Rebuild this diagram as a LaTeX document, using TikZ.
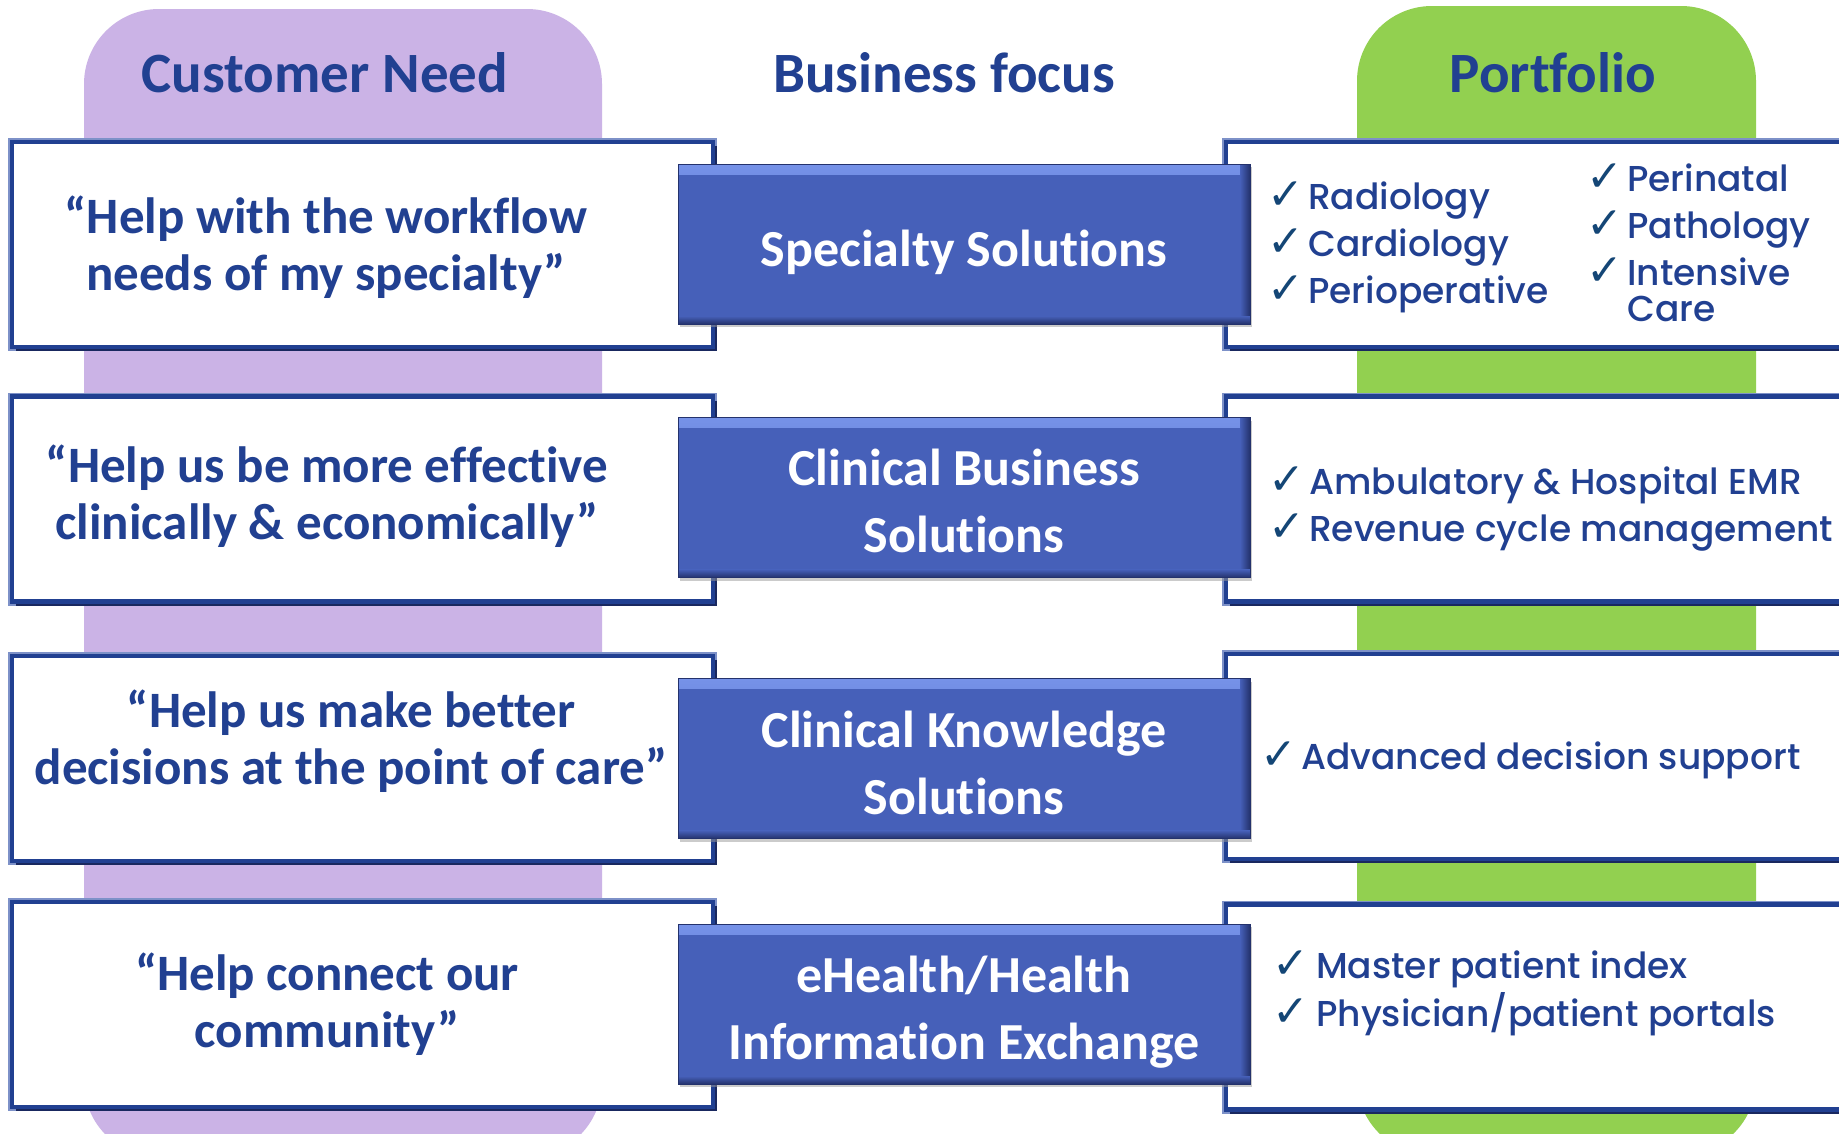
\documentclass[tikz,border=0pt]{standalone}
\usepackage{fontspec}
\setmainfont{Carlito}[Ligatures=NoCommon]
\newfontfamily\listfont{Poppins Medium}
\newfontfamily\checkfont{DejaVu Sans}
\usetikzlibrary{positioning}

\definecolor{needpurple}{RGB}{203,179,230}
\definecolor{portgreen}{RGB}{146,208,80}
\definecolor{gedark}{RGB}{33,64,145}
\definecolor{edgelight}{RGB}{125,145,200}
\definecolor{edgeshade}{RGB}{25,40,95}
\definecolor{focusblue}{RGB}{70,96,185}
\definecolor{focuslight}{RGB}{118,146,232}
\definecolor{focusdeep}{RGB}{36,50,108}
\definecolor{tickblue}{RGB}{20,70,118}

\newcommand{\tickmk}{\makebox[36pt][l]{\hspace{-5pt}\checkfont\fontsize{44}{44}\selectfont\color{tickblue}✓}}

\tikzset{
  colfill/.style={fill=#1, rounded corners=75pt},
  head/.style={anchor=base, inner sep=0pt, text=gedark, font=\fontsize{57}{60}\selectfont\bfseries},
  needframe/.style={fill=white, draw=gedark, line width=4.5pt, inner sep=0pt,
    preaction={draw=edgelight, line width=8pt},
    preaction={fill=edgeshade, transform canvas={xshift=4pt,yshift=-4pt}}},
  focusbox/.style={fill=focusblue, draw=focusdeep, line width=1pt, inner sep=0pt,
    preaction={fill=black!40, opacity=0.5, transform canvas={xshift=2pt,yshift=-3pt}},
    path picture={
      \fill[top color=focuslight, bottom color=focusblue]
        (path picture bounding box.north west) rectangle ([yshift=-10pt]path picture bounding box.north east);
      \fill[left color=focusblue, right color=focusdeep]
        ([xshift=-10pt]path picture bounding box.north east) rectangle (path picture bounding box.south east);
      \fill[top color=focusblue, bottom color=focusdeep]
        ([yshift=8pt]path picture bounding box.south west) rectangle (path picture bounding box.south east);
    }},
  quote/.style={anchor=base, inner sep=0pt, text=gedark, font=\fontsize{51}{57}\selectfont\bfseries},
  focustext/.style={anchor=base, inner sep=0pt, text=white, font=\fontsize{52}{67}\selectfont\bfseries},
  listtext/.style={anchor=base west, inner sep=0pt, text=gedark, font=\listfont\fontsize{36}{47}\selectfont}
}

\begin{document}
\begin{tikzpicture}[x=1pt,y=-1pt]
\clip (0,0) rectangle (1839,1133);
\fill[white] (0,0) rectangle (1839,1133);
% columns behind the boxes
\fill[colfill=needpurple] (84,9) rectangle (602,1157);
\fill[colfill=portgreen] (1357,6) rectangle (1756,1155);

\node[head] (needhead) at (325,92) {Customer Need};
\node[head] (focushead) at (944,92) {Business focus};
\node[head] (porthead) at (1553,92) {Portfolio};

\foreach \row/\yc in {1/244.5,2/499,3/758.5,4/1004.5}
  \node[needframe, minimum width=701pt, minimum height=205pt] (need\row) at (362.5,\yc) {};
\foreach \row/\yc in {1/244.5,2/499,3/756.5,4/1007}
  \node[needframe, minimum width=680pt, minimum height=205pt] (port\row) at (1566,\yc) {};
\foreach \row/\yc in {1/244,2/497.5,3/758.5,4/1004}
  \node[focusbox, minimum width=572pt, minimum height=160pt] (focus\row) at (964,\yc) {};

% customer needs
\node[quote] (needtext1) at (326,233) {\begin{tabular}[t]{@{}c@{}}“Help with the workflow\\needs of my specialty”\end{tabular}};
\node[quote] (needtext2) at (327,482) {\begin{tabular}[t]{@{}c@{}}“Help us be more effective\\clinically \& economically”\end{tabular}};
\node[quote] (needtext3) at (351,727) {\begin{tabular}[t]{@{}c@{}}“Help us make better\\decisions at the point of care”\end{tabular}};
\node[quote] (needtext4) at (327,990) {\begin{tabular}[t]{@{}c@{}}“Help connect our\\community”\end{tabular}};

% business focus
\node[focustext] (focustext1) at (964,266) {Specialty Solutions};
\node[focustext] (focustext2) at (964,485) {\begin{tabular}[t]{@{}c@{}}Clinical Business\\Solutions\end{tabular}};
\node[focustext] (focustext3) at (964,747) {\begin{tabular}[t]{@{}c@{}}Clinical Knowledge\\Solutions\end{tabular}};
\node[focustext] (focustext4) at (964,992) {\begin{tabular}[t]{@{}c@{}}eHealth/Health\\Information Exchange\end{tabular}};

% portfolio
\node[listtext] (portlist1a) at (1272,209) {\begin{tabular}[t]{@{}l@{}l@{}}\tickmk&Radiology\\\tickmk&Cardiology\\\tickmk&Perioperative\end{tabular}};
\node[listtext] (portlist1b) at (1591,191) {\begin{tabular}[t]{@{}l@{}l@{}}\tickmk&Perinatal\\\tickmk&Pathology\\\tickmk&Intensive\\[-11pt]&Care\end{tabular}};
\node[listtext] (portlist2) at (1273,494) {\begin{tabular}[t]{@{}l@{}l@{}}\tickmk&Ambulatory \& Hospital EMR\\\tickmk&Revenue cycle management\end{tabular}};
\node[listtext] (portlist3) at (1265,769) {\begin{tabular}[t]{@{}l@{}l@{}}\tickmk&Advanced decision support\end{tabular}};
\node[listtext] (portlist4) at (1277,978) {\begin{tabular}[t]{@{}l@{\hspace{3pt}}l@{}}\tickmk&Master patient index\\\tickmk&Physician/patient portals\end{tabular}};
\end{tikzpicture}
\end{document}
